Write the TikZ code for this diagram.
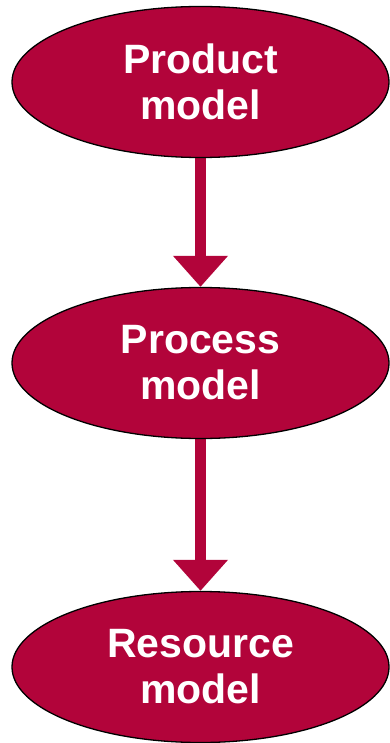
\documentclass[tikz,border=0pt]{standalone}
\usepackage{fontspec}
\setmainfont{Liberation Sans}
\usetikzlibrary{arrows.meta,backgrounds,shapes.geometric}
\definecolor{crimson}{RGB}{178,4,58}
\begin{document}
\begin{tikzpicture}[x=1pt,y=1pt,
  modelnode/.style={ellipse, draw=black, line width=1.3pt, fill=crimson,
    minimum width=377pt, minimum height=151pt, inner sep=0pt,
    text=white, align=center,
    font=\fontsize{41}{46}\selectfont\bfseries},
  flowarrow/.style={draw=crimson, line width=11pt,
    -{Triangle[width=53pt,length=31pt]}}]
\useasboundingbox (0,0) rectangle (390,-743);
\node[modelnode] (product) at (200.5,-82) {Product\\model};
\node[modelnode] (process) at (200.5,-363) {Process\\model};
\node[modelnode] (resource) at (200.5,-667) {Resource\\model};
\begin{scope}[on background layer]
\draw[flowarrow] (product.center) -- (process.north);
\draw[flowarrow] (process.center) -- (resource.north);
\end{scope}
\end{tikzpicture}
\end{document}
